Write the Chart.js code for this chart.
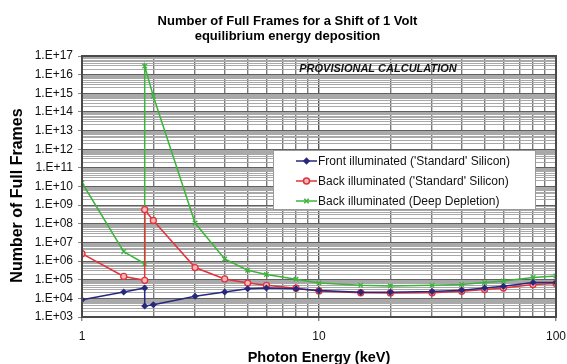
<!DOCTYPE html>
<html>
<head>
<meta charset="utf-8">
<script src="https://cdn.jsdelivr.net/npm/chart.js@4/dist/chart.umd.min.js"></script>
<style>
    html, body { margin: 0; padding: 0; background: #fff; }
    #frameChart { display: block; }
</style>
</head>
<body>
<canvas id="frameChart" width="567" height="364"></canvas>
<script>
// 데이터
const energies = [1, 1.5, 1.839, 1.839, 2, 3, 4, 5, 6, 8, 10, 15, 20, 30, 40, 50, 60, 80, 100];
const frontStd = [8.5e3, 2.2e4, 3.6e4, 3.9e3, 4.6e3, 1.3e4, 2.2e4, 3.3e4, 3.6e4, 3.3e4, 2.6e4, 2.1e4, 2.1e4, 2.3e4, 2.7e4, 3.6e4, 4.4e4, 7.0e4, 7.0e4];
const backStd = [2.5e6, 1.5e5, 9.3e4, 5.7e8, 1.5e8, 4.5e5, 1.1e5, 6.6e4, 5.0e4, 3.5e4, 2.5e4, 2.0e4, 1.95e4, 2.0e4, 2.4e4, 2.95e4, 3.6e4, 5.5e4, 6.2e4];
const backDeep = [1.6e10, 3.2e6, 7.2e5, 2.9e16, 6.9e14, 1.1e8, 1.3e6, 3.2e5, 1.9e5, 1.05e5, 6.6e4, 5.0e4, 4.6e4, 5.0e4, 5.6e4, 7.0e4, 8.5e4, 1.3e5, 1.6e5];
const seriesNames = [
    "Front illuminated ('Standard' Silicon)",
    "Back illuminated ('Standard' Silicon)",
    "Back illuminated (Deep Depletion)"
];
const titleLines = ['Number of Full Frames for a Shift of 1 Volt', 'equilibrium energy deposition'];
const xDecades = [0, 1, 2];          // 1, 10, 100
const yDecades = [3, 4, 5, 6, 7, 8, 9, 10, 11, 12, 13, 14, 15, 16, 17];

const FONT = "'Liberation Sans', Arial, Helvetica, sans-serif";

{
    const isDecade = (v) => {
        const e = Math.round(Math.log10(v));
        return Math.abs(v / Math.pow(10, e) - 1) < 1e-6;
    };

    // 로그축 눈금: 10^n 의 1..9 배
    const logTicks = (decades) => {
        const out = [];
        decades.forEach((e, i) => {
            const last = i === decades.length - 1;
            for (let k = 1; k <= (last ? 1 : 9); k++) {
                out.push({ value: k * Math.pow(10, e) });
            }
        });
        return out;
    };

    const pts = (ys) => energies.map((x, i) => ({ x, y: ys[i] }));

    const styles = [
        { color: '#27287e', fill: '#27287e', pointStyle: 'rectRot', radius: 2.6 },
        { color: '#e2323a', fill: '#f6b9bd', pointStyle: 'circle', radius: 3 },
        { color: '#3cb43c', fill: '#3cb43c', pointStyle: 'crossRot', radius: 3.2 }
    ];

    const decorPlugin = {
        id: 'decor',
        afterDraw(chart) {
            const { ctx, chartArea: a } = chart;
            ctx.save();

            // 테두리
            ctx.strokeStyle = '#4a4a4a';
            ctx.lineWidth = 2;
            ctx.strokeRect(a.left, a.top, a.right - a.left, a.bottom - a.top);

            // 제목
            ctx.fillStyle = '#000';
            ctx.textAlign = 'center';
            ctx.textBaseline = 'middle';
            ctx.font = `bold 13px ${FONT}`;
            ctx.fillText(titleLines[0], 287.5, 21.5);
            ctx.fillText(titleLines[1], 287.5, 36.5);

            // 축 제목
            ctx.font = `bold 14.5px ${FONT}`;
            ctx.textBaseline = 'alphabetic';
            ctx.fillText('Photon Energy (keV)', (a.left + a.right) / 2, 362);
            ctx.save();
            ctx.translate(17.5, 195.5);
            ctx.rotate(-Math.PI / 2);
            ctx.font = `bold 16px ${FONT}`;
            ctx.textBaseline = 'middle';
            ctx.fillText('Number of Full Frames', 0, 0);
            ctx.restore();

            // PROVISIONAL CALCULATION
            ctx.fillStyle = '#111';
            ctx.font = `italic bold 11px ${FONT}`;
            ctx.textAlign = 'center';
            ctx.textBaseline = 'middle';
            ctx.fillText('PROVISIONAL CALCULATION', a.left + 296, a.top + 13);

            // 범례 상자
            const bx = a.left + 191, by = a.top + 94, bw = 262, bh = 59;
            ctx.fillStyle = '#fff';
            ctx.fillRect(bx, by, bw, bh);
            ctx.strokeStyle = '#9a9a9a';
            ctx.lineWidth = 1;
            ctx.strokeRect(bx + 0.5, by + 0.5, bw, bh);

            ctx.font = `12px ${FONT}`;
            ctx.textAlign = 'left';
            seriesNames.forEach((name, i) => {
                const st = styles[i];
                const y = by + 11 + i * 20;
                ctx.strokeStyle = st.color;
                ctx.lineWidth = 1.5;
                ctx.beginPath();
                ctx.moveTo(bx + 23, y);
                ctx.lineTo(bx + 44, y);
                ctx.stroke();
                ctx.fillStyle = st.fill;
                Chart.helpers.drawPoint(ctx, {
                    pointStyle: st.pointStyle, radius: st.radius, rotation: 0, borderWidth: 1.3
                }, bx + 33.5, y);
                ctx.fillStyle = '#111';
                ctx.fillText(name, bx + 45, y + 0.5);
            });
            ctx.restore();
        }
    };

    new Chart(document.getElementById('frameChart'), {
        type: 'line',
        data: {
            datasets: [frontStd, backStd, backDeep].map((ys, i) => ({
                label: seriesNames[i],
                data: pts(ys),
                borderColor: styles[i].color,
                backgroundColor: styles[i].fill,
                pointBackgroundColor: styles[i].fill,
                pointBorderColor: styles[i].color,
                pointStyle: styles[i].pointStyle,
                pointRadius: styles[i].radius,
                pointBorderWidth: 1.3,
                borderWidth: 1.5,
                tension: 0,
                fill: false
            }))
        },
        options: {
            responsive: false,
            animation: false,
            layout: { padding: { left: 0, right: 11, top: 56, bottom: 0 } },
            plugins: {
                legend: { display: false },
                tooltip: { enabled: false },
                title: { display: false }
            },
            scales: {
                x: {
                    type: 'logarithmic',
                    min: 1,
                    max: 100,
                    afterBuildTicks: (s) => { s.ticks = logTicks(xDecades); },
                    afterFit: (s) => {
                        s.height = 47;
                        s.paddingLeft = 0;
                        s.paddingRight = 0;
                    },
                    border: { display: false },
                    grid: {
                        color: (c) => isDecade(c.tick.value) ? '#555' : '#7a7a7a',
                        lineWidth: 1.4,
                        tickLength: 4,
                        tickColor: (c) => isDecade(c.tick.value) ? '#888' : 'transparent'
                    },
                    ticks: {
                        autoSkip: false,
                        maxRotation: 0,
                        padding: 8,
                        color: '#111',
                        font: { family: FONT, size: 12 },
                        callback: (v) => isDecade(v) ? String(Math.round(v)) : ''
                    }
                },
                y: {
                    type: 'logarithmic',
                    min: 1e3,
                    max: 1e17,
                    afterBuildTicks: (s) => { s.ticks = logTicks(yDecades); },
                    afterFit: (s) => {
                        s.width = 82;
                        s.paddingTop = 0;
                        s.paddingBottom = 0;
                    },
                    border: { display: false },
                    grid: {
                        color: (c) => isDecade(c.tick.value) ? '#606060' : '#a9a9a9',
                        lineWidth: 1,
                        tickLength: 4,
                        tickColor: (c) => isDecade(c.tick.value) ? '#888' : 'transparent'
                    },
                    ticks: {
                        autoSkip: false,
                        padding: 5,
                        color: '#111',
                        font: { family: FONT, size: 12 },
                        callback: (v) => {
                            if (!isDecade(v)) return '';
                            const e = Math.round(Math.log10(v));
                            return '1.E+' + String(e).padStart(2, '0');
                        }
                    }
                }
            }
        },
        plugins: [decorPlugin]
    });
}
</script>
</body>
</html>
